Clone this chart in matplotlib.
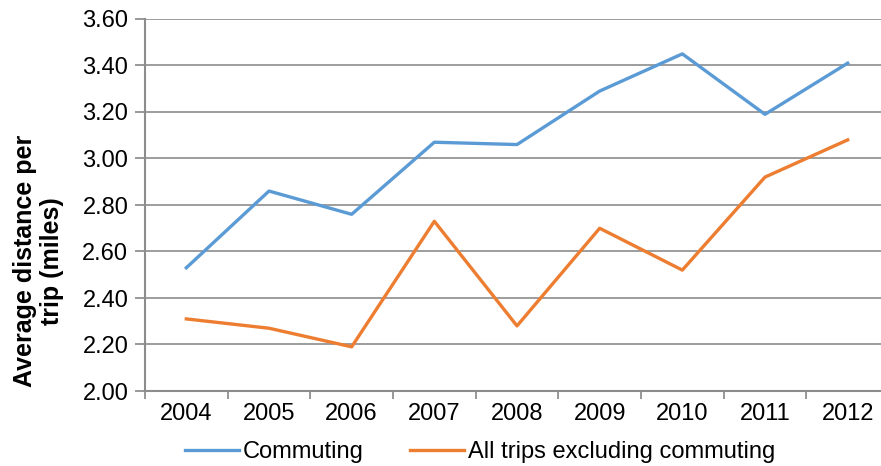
import matplotlib
matplotlib.use("Agg")
import matplotlib.pyplot as plt
import numpy as np

years = ["2004", "2005", "2006", "2007", "2008", "2009", "2010", "2011", "2012"]
commuting = [2.53, 2.86, 2.76, 3.07, 3.06, 3.29, 3.45, 3.19, 3.41]
other_trips = [2.31, 2.27, 2.19, 2.73, 2.28, 2.70, 2.52, 2.92, 3.08]
series_names = ["Commuting", "All trips excluding commuting"]
y_ticks = [2.00, 2.20, 2.40, 2.60, 2.80, 3.00, 3.20, 3.40, 3.60]

plt.rcParams["font.family"] = ["Liberation Sans", "DejaVu Sans"]

W, H = 881, 466
fig = plt.figure(figsize=(W / 100, H / 100), dpi=100)
left, right, top, bottom = 145, 889, 19, 391
ax = fig.add_axes([left / W, 1 - bottom / H, (right - left) / W, (bottom - top) / H])

x = np.arange(len(years)) + 0.5
blue, orange = "#5B9BD5", "#ED7D31"
ax.plot(x, commuting, color=blue, lw=2.4, solid_joinstyle="round", label=series_names[0], clip_on=False)
ax.plot(x, other_trips, color=orange, lw=2.4, solid_joinstyle="round", label=series_names[1], clip_on=False)

ax.set_xlim(0, len(years))
ax.set_ylim(2.0, 3.6)
ax.set_yticks(y_ticks)
ax.set_yticklabels([f"{v:.2f}" for v in y_ticks], fontsize=17)
ax.set_xticks(x)
ax.set_xticklabels(years, fontsize=17)
ax.set_xticks(np.arange(len(years) + 1), minor=True)
ax.tick_params(axis="x", which="major", length=0, pad=9)
ax.tick_params(axis="x", which="minor", length=6, color="#868686", width=1.2)
ax.tick_params(axis="y", length=7, color="#868686", width=1.2, pad=5)

grid_c = "#8C8C8C"
ax.grid(axis="y", color=grid_c, lw=1.2)
ax.set_axisbelow(True)
for s in ["top", "right"]:
    ax.spines[s].set_visible(False)
for s in ["left", "bottom"]:
    ax.spines[s].set_color(grid_c)
    ax.spines[s].set_linewidth(1.5)

ax.set_ylabel("Average distance per\ntrip (miles)", fontsize=18, fontweight="bold",
              linespacing=1.15)
ax.yaxis.set_label_coords((64 - left) / (right - left), (bottom - 261) / (bottom - top))

fig.legend(loc="center", bbox_to_anchor=(480 / W, 1 - 452 / H), ncol=2, frameon=False,
           fontsize=17, handlelength=2.3, handletextpad=0.15, columnspacing=1.95,
           borderpad=0)

fig.savefig("out.png", dpi=100)
